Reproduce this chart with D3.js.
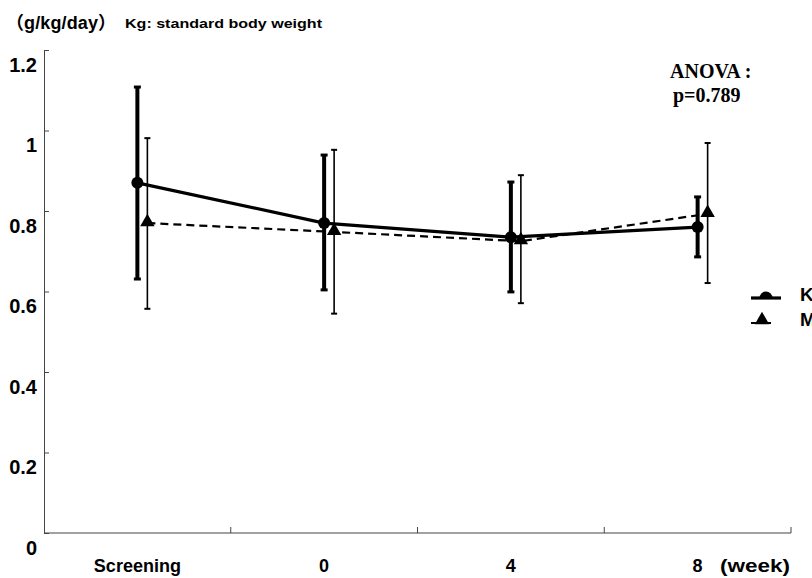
<!DOCTYPE html>
<html>
<head>
<meta charset="utf-8">
<script src="https://cdn.jsdelivr.net/npm/d3@7"></script>
<style>
  html, body { margin: 0; padding: 0; background: #fff; }
  svg { display: block; }
</style>
</head>
<body>
<svg id="chart" width="812" height="578"></svg>
<script>
// ---- data ----
const categories = ["Screening", "0", "4", "8"];
const yTicks = [0, 0.2, 0.4, 0.6, 0.8, 1, 1.2];
const seriesNames = ["K", "M"];
const kMean  = [0.870, 0.770, 0.735, 0.760];
const kUpper = [1.108, 0.939, 0.872, 0.835];
const kLower = [0.631, 0.604, 0.599, 0.686];
const mMean  = [0.770, 0.748, 0.725, 0.793];
const mUpper = [0.981, 0.952, 0.889, 0.969];
const mLower = [0.557, 0.545, 0.571, 0.621];
const titleUnit = "（g/kg/day）";
const titleNote = "Kg: standard body weight";
const xUnit = "(week)";
const statLines = ["ANOVA :", "p=0.789"];

// ---- layout ----
const svg = d3.select("#chart");
const plotLeft = 44, plotRight = 791, plotTop = 50, plotBottom = 533;
const sans = "'Liberation Sans', 'Noto Sans CJK JP', Arial, sans-serif";
const serif = "'Liberation Serif', 'Times New Roman', serif";

const x = d3.scaleBand().domain(categories).range([plotLeft, plotRight]);
const y = d3.scaleLinear().domain([0, 1.2]).range([plotBottom, plotTop]);
const cx = (i) => x(categories[i]) + x.bandwidth() / 2;
const mOffset = 10;

// title
svg.append("text").attr("x", 6).attr("y", 29)
  .attr("font-family", sans).attr("font-weight", "bold").attr("font-size", 18)
  .attr("textLength", 110).attr("lengthAdjust", "spacing")
  .text(titleUnit);
svg.append("text").attr("x", 125).attr("y", 28)
  .attr("font-family", sans).attr("font-weight", "bold").attr("font-size", 13)
  .attr("textLength", 197).attr("lengthAdjust", "spacingAndGlyphs")
  .text(titleNote);

// y axis
const yAxis = d3.axisLeft(y).tickValues(yTicks).tickSize(-5).tickPadding(7)
  .tickFormat(d => d3.format("")(d));
const gy = svg.append("g").attr("transform", `translate(${plotLeft},0)`).call(yAxis);
gy.select(".domain").attr("stroke", "#444").attr("stroke-width", 1);
gy.selectAll(".tick line").attr("stroke", "#444");
gy.selectAll(".tick text").attr("font-family", sans).attr("font-weight", "bold")
  .attr("font-size", 20).attr("fill", "#000").attr("dy", 21);

// x axis
svg.append("line").attr("x1", plotLeft).attr("x2", plotRight).attr("y1", plotBottom).attr("y2", plotBottom)
  .attr("stroke", "#444").attr("stroke-width", 1);
svg.selectAll(".xtick").data(categories).enter().append("line")
  .attr("x1", d => x(d) + x.bandwidth()).attr("x2", d => x(d) + x.bandwidth())
  .attr("y1", plotBottom).attr("y2", plotBottom - 6)
  .attr("stroke", "#444").attr("stroke-width", 1);
svg.selectAll(".xlab").data(categories).enter().append("text")
  .attr("x", (d, i) => cx(i)).attr("y", 572)
  .attr("text-anchor", "middle")
  .attr("font-family", sans).attr("font-weight", "bold").attr("font-size", 18)
  .text(d => d);
svg.append("text").attr("x", 720).attr("y", 572)
  .attr("font-family", sans).attr("font-weight", "bold").attr("font-size", 18)
  .attr("textLength", 70).attr("lengthAdjust", "spacingAndGlyphs")
  .text(xUnit);

// ANOVA note
statLines.forEach((t, i) => {
  svg.append("text").attr("x", 670 + i * 3).attr("y", 78 + i * 24)
    .attr("font-family", serif).attr("font-weight", "bold").attr("font-size", 20)
    .text(t);
});

// error bars
function errBars(mean, lo, hi, off, sw, capW, capSw) {
  const g = svg.append("g");
  mean.forEach((m, i) => {
    const xx = cx(i) + off;
    g.append("line").attr("x1", xx).attr("x2", xx).attr("y1", y(lo[i])).attr("y2", y(hi[i]))
      .attr("stroke", "#000").attr("stroke-width", sw);
    [lo[i], hi[i]].forEach(v => {
      g.append("line").attr("x1", xx - capW / 2).attr("x2", xx + capW / 2)
        .attr("y1", y(v)).attr("y2", y(v))
        .attr("stroke", "#000").attr("stroke-width", capSw);
    });
  });
}
errBars(kMean, kLower, kUpper, 0, 4, 7, 3);
errBars(mMean, mLower, mUpper, mOffset, 1.6, 6, 2);

// lines
const lineK = d3.line().x((d, i) => cx(i)).y(d => y(d));
const lineM = d3.line().x((d, i) => cx(i) + mOffset).y(d => y(d));
svg.append("path").attr("d", lineM(mMean)).attr("fill", "none")
  .attr("stroke", "#000").attr("stroke-width", 2.2).attr("stroke-dasharray", "8,5");
svg.append("path").attr("d", lineK(kMean)).attr("fill", "none")
  .attr("stroke", "#000").attr("stroke-width", 3.2);

// markers
const tri = d3.symbol().type(d3.symbolTriangle).size(90);
svg.selectAll(".mk").data(kMean).enter().append("circle")
  .attr("cx", (d, i) => cx(i)).attr("cy", d => y(d)).attr("r", 6).attr("fill", "#000");
svg.selectAll(".mm").data(mMean).enter().append("path")
  .attr("d", tri).attr("transform", (d, i) => `translate(${cx(i) + mOffset},${y(d) - 1})`)
  .attr("fill", "#000");

// legend
const lgX1 = 751, lgX2 = 781, lgMid = 766;
const lgY = [298, 323];
svg.append("line").attr("x1", lgX1).attr("x2", lgX2).attr("y1", lgY[0]).attr("y2", lgY[0])
  .attr("stroke", "#000").attr("stroke-width", 3.2);
svg.append("path").attr("d", d3.arc()({innerRadius: 0, outerRadius: 6.5, startAngle: -Math.PI / 2, endAngle: Math.PI / 2}))
  .attr("transform", `translate(${lgMid},${lgY[0]})`).attr("fill", "#000");
svg.append("line").attr("x1", lgX1).attr("x2", lgX2).attr("y1", lgY[1]).attr("y2", lgY[1])
  .attr("stroke", "#000").attr("stroke-width", 2.2).attr("stroke-dasharray", "12,5,3,20");
svg.append("path").attr("d", tri).attr("transform", `translate(${lgMid - 4},${lgY[1] - 3})`)
  .attr("fill", "#000");
seriesNames.forEach((s, i) => {
  svg.append("text").attr("x", 800).attr("y", lgY[i] + 3)
    .attr("font-family", sans).attr("font-weight", "bold").attr("font-size", 19)
    .text(s);
});
</script>
</body>
</html>
